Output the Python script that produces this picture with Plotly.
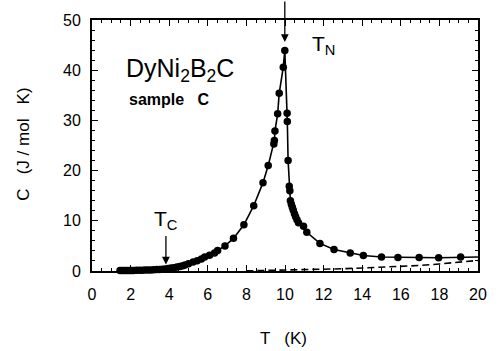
import plotly.graph_objects as go

# Measured specific heat of DyNi2B2C (sample C)
T_data = [1.45, 1.55, 1.65, 1.75, 1.85, 1.95, 2.05, 2.15, 2.3, 2.45, 2.6, 2.75, 2.9,
          3.05, 3.2, 3.35, 3.5, 3.65, 3.8, 3.95, 4.1, 4.25, 4.4, 4.55, 4.7, 4.82,
          5.0, 5.24, 5.45, 5.67, 5.84, 6.09, 6.35, 6.51, 6.89, 7.33, 7.87, 8.38,
          8.86, 9.13, 9.42, 9.45, 9.48, 9.62, 9.70, 9.91, 9.99,
          10.11, 10.12, 10.16, 10.22, 10.25, 10.28, 10.33, 10.38, 10.43, 10.49,
          10.55, 10.62, 10.70, 10.96, 11.13, 11.81, 12.54, 13.38, 14.06, 15.0,
          15.85, 16.95, 17.96, 19.1]
C_data = [0.08, 0.08, 0.09, 0.09, 0.10, 0.10, 0.11, 0.12, 0.13, 0.14, 0.16, 0.18, 0.20,
          0.22, 0.25, 0.28, 0.32, 0.36, 0.42, 0.50, 0.58, 0.66, 0.78, 0.9, 1.05, 1.2,
          1.45, 1.8, 2.05, 2.4, 2.8, 3.15, 3.6, 4.1, 5.0, 6.5, 9.2, 13.0,
          17.6, 21.0, 25.3, 26.0, 27.9, 31.3, 35.4, 40.6, 43.9,
          31.4, 29.8, 22.0, 16.9, 16.0, 14.0, 13.3, 12.7, 12.1, 11.4,
          10.8, 10.2, 9.6, 8.9, 7.7, 5.5, 4.3, 3.6, 3.1, 2.8,
          2.7, 2.7, 2.65, 2.8]

# solid curve tail beyond last point
T_tail = [19.1, 20.0]
C_tail = [2.8, 2.8]

# dashed (lattice) contribution
T_dash = [8, 9, 10, 11, 12, 13, 14, 15, 16, 17, 18, 19, 20]
C_dash = [0.02, 0.08, 0.15, 0.25, 0.35, 0.45, 0.6, 0.75, 0.9, 1.1, 1.4, 1.75, 2.1]

x_ticks = [0, 2, 4, 6, 8, 10, 12, 14, 16, 18, 20]
y_ticks = [0, 10, 20, 30, 40, 50]

FONT = "Liberation Sans, Arial, sans-serif"

fig = go.Figure()
fig.add_trace(go.Scatter(x=T_dash, y=C_dash, mode="lines",
                         line=dict(color="black", width=1.6, dash="7px,4px"),
                         showlegend=False, hoverinfo="skip"))
fig.add_trace(go.Scatter(x=T_data + T_tail[1:], y=C_data + C_tail[1:], mode="lines",
                         line=dict(color="black", width=1.6),
                         showlegend=False, hoverinfo="skip"))
fig.add_trace(go.Scatter(x=T_data, y=C_data, mode="markers",
                         marker=dict(color="black", size=7.5),
                         showlegend=False, cliponaxis=False))

axis_common = dict(showline=True, linecolor="black", linewidth=2, mirror="allticks",
                   ticks="inside", ticklen=6, tickwidth=1.2, tickcolor="black",
                   showgrid=False, zeroline=False,
                   tickfont=dict(family=FONT, size=16, color="black"))

fig.update_xaxes(range=[0, 20], tickvals=x_ticks, ticktext=[str(v) for v in x_ticks],
                 ticklabelstandoff=8,
                 minor=dict(dtick=0.5, ticks="inside", ticklen=3, tickcolor="black",
                            tickwidth=1),
                 **axis_common)
fig.update_yaxes(range=[0, 50], tickvals=y_ticks, ticktext=[str(v) for v in y_ticks],
                 ticklabelstandoff=6,
                 minor=dict(dtick=2, ticks="inside", ticklen=3, tickcolor="black",
                            tickwidth=1),
                 **axis_common)

annotations = [
    dict(x=1.65, y=40, xref="x", yref="y", xanchor="left", yanchor="middle",
         text="DyNi<sub>2</sub>B<sub>2</sub>C", showarrow=False,
         font=dict(family=FONT, size=25, color="black")),
    dict(x=1.83, y=34.1, xref="x", yref="y", xanchor="left", yanchor="middle",
         text="<b>sample   C</b>", showarrow=False,
         font=dict(family=FONT, size=16, color="black")),
    dict(x=12.0, y=45.0, xref="x", yref="y", xanchor="center", yanchor="middle",
         text="T<sub>N</sub>", showarrow=False,
         font=dict(family=FONT, size=21, color="black")),
    dict(x=3.82, y=10.2, xref="x", yref="y", xanchor="center", yanchor="middle",
         text="T<sub>C</sub>", showarrow=False,
         font=dict(family=FONT, size=21, color="black")),
    dict(x=9.99, y=45.6, xref="x", yref="y", text="", showarrow=True,
         ax=0, ay=-42, arrowhead=2, arrowsize=1.2, arrowwidth=1.3, arrowcolor="black"),
    dict(x=3.83, y=1.3, xref="x", yref="y", text="", showarrow=True,
         ax=0, ay=-30, arrowhead=2, arrowsize=1.2, arrowwidth=1.3, arrowcolor="black"),
    dict(x=22, y=142, xref="paper", yref="paper", text="C   (J / mol   K)",
         showarrow=False, textangle=-90, font=dict(family=FONT, size=17, color="black")),
    dict(x=287, y=340, xref="paper", yref="paper", text="T   (K)",
         showarrow=False, font=dict(family=FONT, size=17, color="black")),
]

W, H = 499, 351
ML, MR, MT, MB = 92, 14, 15, 80
# convert pixel positions of axis titles into paper coordinates
for a in annotations:
    if a.get("xref") == "paper":
        a["x"] = (a["x"] - ML) / (W - ML - MR)
        a["y"] = (H - MB - a["y"]) / (H - MT - MB)
        a["xanchor"] = "center"
        a["yanchor"] = "middle"

fig.update_layout(width=W, height=H, margin=dict(l=ML, r=MR, t=MT, b=MB),
                  plot_bgcolor="white", paper_bgcolor="white",
                  annotations=annotations, showlegend=False)

fig.write_html("out.html", config={"displayModeBar": False},
               post_script="document.body.style.margin='0px';"
                           "document.body.style.overflow='hidden';")
